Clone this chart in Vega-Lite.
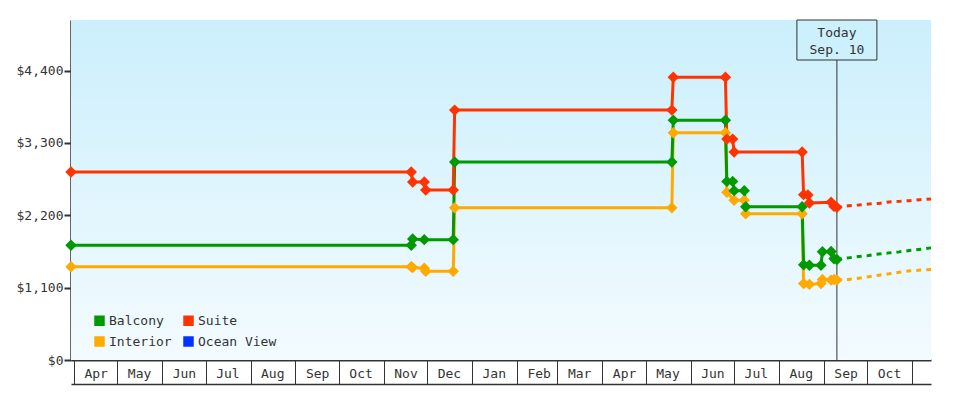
{
  "$schema": "https://vega.github.io/schema/vega-lite/v6.json",
  "width": 860,
  "height": 340,
  "autosize": {"type": "none"},
  "padding": {"left": 71, "top": 20, "right": 49, "bottom": 40},
  "background": "#ffffff",
  "config": {
    "view": {"stroke": null},
    "font": "DejaVu Sans Mono",
    "axis": {"labelFont": "DejaVu Sans Mono", "labelFontSize": 13, "labelColor": "#333333", "grid": false, "title": null, "zindex": 1},
    "axisY": {"domainWidth": 2.5, "domainColor": "#333333", "tickColor": "#333333", "tickWidth": 2, "zindex": 2},
    "legend": {"labelFont": "DejaVu Sans Mono", "labelFontSize": 13, "labelColor": "#333333"}
  },
  "datasets": {
    "observed": [
      {"date": "2013-03-30T00:00", "cabin": "Interior", "price": 1417},
      {"date": "2013-11-20T00:00", "cabin": "Interior", "price": 1417},
      {"date": "2013-11-21T00:00", "cabin": "Interior", "price": 1405},
      {"date": "2013-11-29T00:00", "cabin": "Interior", "price": 1395},
      {"date": "2013-11-30T00:00", "cabin": "Interior", "price": 1350},
      {"date": "2013-12-19T00:00", "cabin": "Interior", "price": 1350},
      {"date": "2013-12-20T00:00", "cabin": "Interior", "price": 2315},
      {"date": "2014-05-19T00:00", "cabin": "Interior", "price": 2315},
      {"date": "2014-05-20T00:00", "cabin": "Interior", "price": 3455},
      {"date": "2014-06-25T00:00", "cabin": "Interior", "price": 3455},
      {"date": "2014-06-26T00:00", "cabin": "Interior", "price": 2550},
      {"date": "2014-07-01T00:00", "cabin": "Interior", "price": 2430},
      {"date": "2014-07-08T00:00", "cabin": "Interior", "price": 2430},
      {"date": "2014-07-09T00:00", "cabin": "Interior", "price": 2225},
      {"date": "2014-08-17T00:00", "cabin": "Interior", "price": 2225},
      {"date": "2014-08-18T00:00", "cabin": "Interior", "price": 1164},
      {"date": "2014-08-22T00:00", "cabin": "Interior", "price": 1150},
      {"date": "2014-08-30T00:00", "cabin": "Interior", "price": 1164},
      {"date": "2014-08-31T00:00", "cabin": "Interior", "price": 1225},
      {"date": "2014-09-06T00:00", "cabin": "Interior", "price": 1215},
      {"date": "2014-09-08T00:00", "cabin": "Interior", "price": 1225},
      {"date": "2014-09-10T00:00", "cabin": "Interior", "price": 1215},
      {"date": "2013-03-30T00:00", "cabin": "Balcony", "price": 1745},
      {"date": "2013-11-20T00:00", "cabin": "Balcony", "price": 1745},
      {"date": "2013-11-21T00:00", "cabin": "Balcony", "price": 1840},
      {"date": "2013-11-29T00:00", "cabin": "Balcony", "price": 1830},
      {"date": "2013-12-19T00:00", "cabin": "Balcony", "price": 1830},
      {"date": "2013-12-20T00:00", "cabin": "Balcony", "price": 3010},
      {"date": "2014-05-19T00:00", "cabin": "Balcony", "price": 3010},
      {"date": "2014-05-20T00:00", "cabin": "Balcony", "price": 3647},
      {"date": "2014-06-25T00:00", "cabin": "Balcony", "price": 3647},
      {"date": "2014-06-26T00:00", "cabin": "Balcony", "price": 2716},
      {"date": "2014-06-30T00:00", "cabin": "Balcony", "price": 2716},
      {"date": "2014-07-01T00:00", "cabin": "Balcony", "price": 2575},
      {"date": "2014-07-08T00:00", "cabin": "Balcony", "price": 2575},
      {"date": "2014-07-09T00:00", "cabin": "Balcony", "price": 2330},
      {"date": "2014-08-17T00:00", "cabin": "Balcony", "price": 2330},
      {"date": "2014-08-18T00:00", "cabin": "Balcony", "price": 1447},
      {"date": "2014-08-22T00:00", "cabin": "Balcony", "price": 1440},
      {"date": "2014-08-30T00:00", "cabin": "Balcony", "price": 1440},
      {"date": "2014-08-31T00:00", "cabin": "Balcony", "price": 1645},
      {"date": "2014-09-06T00:00", "cabin": "Balcony", "price": 1650},
      {"date": "2014-09-08T00:00", "cabin": "Balcony", "price": 1540},
      {"date": "2014-09-10T00:00", "cabin": "Balcony", "price": 1528},
      {"date": "2013-03-30T00:00", "cabin": "Suite", "price": 2858},
      {"date": "2013-11-20T00:00", "cabin": "Suite", "price": 2858},
      {"date": "2013-11-21T00:00", "cabin": "Suite", "price": 2707},
      {"date": "2013-11-29T00:00", "cabin": "Suite", "price": 2707},
      {"date": "2013-11-30T00:00", "cabin": "Suite", "price": 2585},
      {"date": "2013-12-19T00:00", "cabin": "Suite", "price": 2585},
      {"date": "2013-12-20T00:00", "cabin": "Suite", "price": 3800},
      {"date": "2014-05-19T00:00", "cabin": "Suite", "price": 3800},
      {"date": "2014-05-20T00:00", "cabin": "Suite", "price": 4300},
      {"date": "2014-06-25T00:00", "cabin": "Suite", "price": 4300},
      {"date": "2014-06-26T00:00", "cabin": "Suite", "price": 3359},
      {"date": "2014-06-30T00:00", "cabin": "Suite", "price": 3359},
      {"date": "2014-07-01T00:00", "cabin": "Suite", "price": 3162},
      {"date": "2014-08-17T00:00", "cabin": "Suite", "price": 3162},
      {"date": "2014-08-18T00:00", "cabin": "Suite", "price": 2514},
      {"date": "2014-08-21T00:00", "cabin": "Suite", "price": 2510},
      {"date": "2014-08-22T00:00", "cabin": "Suite", "price": 2388},
      {"date": "2014-09-06T00:00", "cabin": "Suite", "price": 2400},
      {"date": "2014-09-08T00:00", "cabin": "Suite", "price": 2336},
      {"date": "2014-09-10T00:00", "cabin": "Suite", "price": 2321}
    ],
    "forecast": [
      {"date": "2014-09-10T00:00", "cabin": "Interior", "price": 1215},
      {"date": "2014-09-18T00:00", "cabin": "Interior", "price": 1225},
      {"date": "2014-09-25T00:00", "cabin": "Interior", "price": 1244},
      {"date": "2014-10-02T00:00", "cabin": "Interior", "price": 1265},
      {"date": "2014-10-09T00:00", "cabin": "Interior", "price": 1290},
      {"date": "2014-10-16T00:00", "cabin": "Interior", "price": 1310},
      {"date": "2014-10-23T00:00", "cabin": "Interior", "price": 1335},
      {"date": "2014-10-31T00:00", "cabin": "Interior", "price": 1356},
      {"date": "2014-11-07T00:00", "cabin": "Interior", "price": 1368},
      {"date": "2014-11-14T00:00", "cabin": "Interior", "price": 1376},
      {"date": "2014-09-10T00:00", "cabin": "Balcony", "price": 1528},
      {"date": "2014-09-18T00:00", "cabin": "Balcony", "price": 1553},
      {"date": "2014-09-25T00:00", "cabin": "Balcony", "price": 1573},
      {"date": "2014-10-02T00:00", "cabin": "Balcony", "price": 1588},
      {"date": "2014-10-09T00:00", "cabin": "Balcony", "price": 1613},
      {"date": "2014-10-16T00:00", "cabin": "Balcony", "price": 1629},
      {"date": "2014-10-23T00:00", "cabin": "Balcony", "price": 1644},
      {"date": "2014-10-31T00:00", "cabin": "Balcony", "price": 1668},
      {"date": "2014-11-07T00:00", "cabin": "Balcony", "price": 1685},
      {"date": "2014-11-14T00:00", "cabin": "Balcony", "price": 1705},
      {"date": "2014-09-10T00:00", "cabin": "Suite", "price": 2321},
      {"date": "2014-09-18T00:00", "cabin": "Suite", "price": 2346},
      {"date": "2014-09-25T00:00", "cabin": "Suite", "price": 2357},
      {"date": "2014-10-02T00:00", "cabin": "Suite", "price": 2372},
      {"date": "2014-10-09T00:00", "cabin": "Suite", "price": 2380},
      {"date": "2014-10-16T00:00", "cabin": "Suite", "price": 2403},
      {"date": "2014-10-23T00:00", "cabin": "Suite", "price": 2412},
      {"date": "2014-10-30T00:00", "cabin": "Suite", "price": 2423},
      {"date": "2014-11-06T00:00", "cabin": "Suite", "price": 2438},
      {"date": "2014-11-14T00:00", "cabin": "Suite", "price": 2449}
    ],
    "today": [
      {"date": "2014-09-10T00:00", "label": "Today\nSep. 10"}
    ]
  },
  "resolve": {"axis": {"x": "independent"}},
  "layer": [
    {
      "data": {"values": [{"panel": "plot"}]},
      "mark": {
        "type": "rect",
        "fill": {
          "gradient": "linear", "x1": 0, "y1": 0, "x2": 0, "y2": 1,
          "stops": [{"offset": 0, "color": "#cbeffc"}, {"offset": 1, "color": "#f3fbff"}]
        }
      },
      "encoding": {}
    },
    {
      "data": {"name": "today"},
      "mark": {"type": "rule", "color": "#333333", "strokeWidth": 1},
      "encoding": {
        "x": {"field": "date", "type": "temporal", "axis": null,
              "scale": {"domain": [{"year": 2013, "month": 3, "date": 30}, {"year": 2014, "month": 11, "date": 14}], "nice": false}}
      }
    },
    {
      "data": {"name": "forecast"},
      "mark": {"type": "line", "strokeWidth": 3, "strokeDash": [5, 5]},
      "encoding": {
        "x": {"field": "date", "type": "temporal",
              "scale": {"domain": [{"year": 2013, "month": 3, "date": 30}, {"year": 2014, "month": 11, "date": 14}], "nice": false},
              "axis": {"orient": "bottom", "offset": 24, "domain": true, "domainColor": "#333333", "domainWidth": 1.5,
                       "ticks": false, "labels": false, "title": null, "grid": false}},
        "y": {"field": "price", "type": "quantitative", "scale": {"domain": [0, 5170], "nice": false},
              "axis": {"values": [0, 1100, 2200, 3300, 4400], "format": "$,d", "tickSize": 7, "labelPadding": 1,
                       "title": null, "grid": false}},
        "stroke": {"field": "cabin", "type": "nominal", "legend": null,
                  "scale": {"domain": ["Balcony", "Suite", "Interior"], "range": ["#009900", "#ff3300", "#ffaa00"]}}
      }
    },
    {
      "data": {"name": "observed"},
      "mark": {"type": "line", "strokeWidth": 3},
      "encoding": {
        "x": {"field": "date", "type": "temporal",
              "scale": {"domain": [{"year": 2013, "month": 3, "date": 30}, {"year": 2014, "month": 11, "date": 14}], "nice": false},
              "axis": {
                "orient": "bottom",
                "values": [
                  {"year": 2013, "month": 4, "date": 1}, {"year": 2013, "month": 5, "date": 1}, {"year": 2013, "month": 6, "date": 1},
                  {"year": 2013, "month": 7, "date": 1}, {"year": 2013, "month": 8, "date": 1}, {"year": 2013, "month": 9, "date": 1},
                  {"year": 2013, "month": 10, "date": 1}, {"year": 2013, "month": 11, "date": 1}, {"year": 2013, "month": 12, "date": 1},
                  {"year": 2014, "month": 1, "date": 1}, {"year": 2014, "month": 2, "date": 1}, {"year": 2014, "month": 3, "date": 1},
                  {"year": 2014, "month": 4, "date": 1}, {"year": 2014, "month": 5, "date": 1}, {"year": 2014, "month": 6, "date": 1},
                  {"year": 2014, "month": 7, "date": 1}, {"year": 2014, "month": 8, "date": 1}, {"year": 2014, "month": 9, "date": 1},
                  {"year": 2014, "month": 10, "date": 1}, {"year": 2014, "month": 11, "date": 1}
                ],
                "labelExpr": "datum.value >= time(datetime(2014, 9, 20)) ? '' : timeFormat(datum.value, '%b')",
                "tickSize": 24, "tickWidth": 1, "tickColor": "#333333",
                "domainColor": "#333333", "domainWidth": 2,
                "labelAlign": "left", "labelBaseline": "middle", "labelOffset": 10, "labelPadding": -11,
                "labelFlush": false, "labelOverlap": false, "labelBound": false,
                "title": null, "grid": false
              }},
        "y": {"field": "price", "type": "quantitative",
              "scale": {"domain": [0, 5170], "nice": false},
              "axis": {"values": [0, 1100, 2200, 3300, 4400], "format": "$,d", "tickSize": 7, "labelPadding": 1,
                       "title": null, "grid": false}},
        "stroke": {"field": "cabin", "type": "nominal", "legend": null,
                  "scale": {"domain": ["Balcony", "Suite", "Interior"], "range": ["#009900", "#ff3300", "#ffaa00"]}}
      }
    },
    {
      "data": {"name": "observed"},
      "mark": {"type": "point", "shape": "diamond", "size": 130, "filled": true, "opacity": 1},
      "encoding": {
        "x": {"field": "date", "type": "temporal", "axis": null,
              "scale": {"domain": [{"year": 2013, "month": 3, "date": 30}, {"year": 2014, "month": 11, "date": 14}], "nice": false}},
        "y": {"field": "price", "type": "quantitative", "scale": {"domain": [0, 5170], "nice": false},
              "axis": {"values": [0, 1100, 2200, 3300, 4400], "format": "$,d", "tickSize": 7, "labelPadding": 1,
                       "title": null, "grid": false}},
        "color": {"field": "cabin", "type": "nominal",
                  "scale": {"domain": ["Balcony", "Interior", "Suite", "Ocean View"], "range": ["#009900", "#ffaa00", "#ff3300", "#0033ff"]},
                  "legend": {"orient": "none", "legendX": 22, "legendY": 294, "columns": 2, "title": null,
                             "symbolType": "square", "symbolSize": 110, "symbolStrokeWidth": 0, "symbolOpacity": 1,
                             "padding": 0, "rowPadding": 7, "columnPadding": 10, "labelOffset": 3,
                             "labelFont": "DejaVu Sans Mono", "labelFontSize": 13, "labelColor": "#333333"}}
      }
    },
    {
      "data": {"name": "today"},
      "mark": {"type": "point", "shape": "M-1,-0.5L1,-0.5L1,0.5L-1,0.5Z", "size": 6400, "filled": true,
               "fill": "#ccf0fc", "stroke": "#333333", "strokeWidth": 1, "opacity": 1, "yOffset": 20},
      "encoding": {
        "x": {"field": "date", "type": "temporal", "axis": null,
              "scale": {"domain": [{"year": 2013, "month": 3, "date": 30}, {"year": 2014, "month": 11, "date": 14}], "nice": false}},
        "y": {"datum": 5170, "type": "quantitative", "scale": {"domain": [0, 5170], "nice": false},
              "axis": {"values": [0, 1100, 2200, 3300, 4400], "format": "$,d", "tickSize": 7, "labelPadding": 1,
                       "title": null, "grid": false}}
      }
    },
    {
      "data": {"name": "today"},
      "mark": {"type": "text", "font": "DejaVu Sans Mono", "fontSize": 13, "color": "#333333", "align": "center",
               "baseline": "top", "lineBreak": "\n", "lineHeight": 17, "yOffset": 7},
      "encoding": {
        "x": {"field": "date", "type": "temporal", "axis": null,
              "scale": {"domain": [{"year": 2013, "month": 3, "date": 30}, {"year": 2014, "month": 11, "date": 14}], "nice": false}},
        "y": {"datum": 5170, "type": "quantitative", "scale": {"domain": [0, 5170], "nice": false},
              "axis": {"values": [0, 1100, 2200, 3300, 4400], "format": "$,d", "tickSize": 7, "labelPadding": 1,
                       "title": null, "grid": false}},
        "text": {"field": "label"}
      }
    }
  ]
}
